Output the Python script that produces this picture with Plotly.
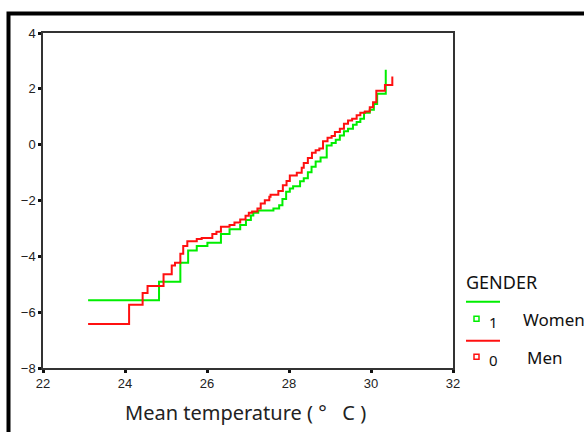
import plotly.graph_objects as go

# Data (step functions)
men_x = [23.10, 24.10, 24.43, 24.55, 24.94, 25.14, 25.22, 25.35, 25.42, 25.52, 25.75, 25.87,
         26.13, 26.23, 26.34, 26.55, 26.67, 26.81, 26.94, 27.02, 27.10, 27.23, 27.31, 27.41,
         27.52, 27.55, 27.74, 27.85, 27.94, 28.02, 28.19, 28.31, 28.36, 28.46, 28.56, 28.65,
         28.74, 28.83, 28.94, 29.04, 29.12, 29.24, 29.34, 29.44, 29.54, 29.65, 29.74, 29.85,
         29.97, 30.05, 30.13, 30.34, 30.52]
men_y = [-6.42, -5.73, -5.31, -5.06, -4.64, -4.33, -4.23, -3.91, -3.63, -3.46, -3.38, -3.34,
         -3.20, -3.12, -2.94, -2.88, -2.79, -2.68, -2.55, -2.44, -2.39, -2.29, -2.11, -1.99,
         -1.87, -1.79, -1.66, -1.45, -1.30, -1.10, -1.01, -0.83, -0.66, -0.48, -0.29, -0.20,
         -0.14, 0.12, 0.25, 0.31, 0.45, 0.57, 0.75, 0.87, 0.93, 1.05, 1.14, 1.19,
         1.34, 1.52, 1.93, 2.14, 2.44]

women_x = [23.10, 24.83, 25.35, 25.54, 25.75, 26.01, 26.34, 26.55, 26.81, 26.95, 27.07, 27.13,
           27.25, 27.62, 27.76, 27.84, 27.93, 28.02, 28.10, 28.27, 28.36, 28.46, 28.55, 28.65,
           28.77, 28.92, 29.04, 29.14, 29.24, 29.34, 29.44, 29.56, 29.65, 29.74, 29.83, 29.97,
           30.07, 30.15, 30.36]
women_y = [-5.57, -4.91, -4.23, -3.79, -3.63, -3.51, -3.20, -3.03, -2.88, -2.70, -2.54, -2.44,
           -2.36, -2.29, -2.17, -1.95, -1.69, -1.57, -1.49, -1.31, -1.20, -0.99, -0.79, -0.60,
           -0.46, -0.03, 0.06, 0.18, 0.33, 0.48, 0.57, 0.71, 0.81, 0.93, 1.14, 1.25,
           1.46, 1.82, 2.68]

x_ticks = [22, 24, 26, 28, 30, 32]
y_ticks = [-8, -6, -4, -2, 0, 2, 4]
legend_title = "GENDER"
legend_codes = ["1", "0"]
legend_names = ["Women", "Men"]
x_title = "Mean temperature ( °   C )"

GREEN = "#00ee00"
RED = "#ff1010"

fig = go.Figure()
fig.add_trace(go.Scatter(x=women_x, y=women_y, mode="lines", line=dict(color=GREEN, width=2, shape="hv"),
                         name="Women", showlegend=False))
fig.add_trace(go.Scatter(x=men_x, y=men_y, mode="lines", line=dict(color=RED, width=2, shape="hv"),
                         name="Men", showlegend=False))

# page body margin is removed by the post script, so page pixels == figure pixels
W, H = 584, 432
PL, PR, PT, PB = 43, 453, 32.5, 368.3  # plot area in page pixels
L, R, T, B = PL, W - PR, PT, H - PB
pw, ph = PR - PL, PB - PT


def px(x):
    return (x - PL) / pw


def py(y):
    return (PB - y) / ph


shapes = [
    # thick black frame at top and left
    dict(type="path", xref="paper", yref="paper",
         path=f"M {px(8.5)},{py(440)} L {px(8.5)},{py(13)} L {px(600)},{py(13)}",
         line=dict(color="black", width=4)),
]
annotations = [
    dict(text=x_title, xref="paper", yref="paper", x=px(245), y=py(413), xanchor="center", yanchor="middle",
         showarrow=False, font=dict(family="Noto Sans", size=20, color="#222")),
    dict(text=legend_title, xref="paper", yref="paper", x=px(464), y=py(282), xanchor="left", yanchor="middle",
         showarrow=False, font=dict(family="Noto Sans", size=18, color="#111")),
]
colors = [GREEN, RED]
line_y = [302, 341]
sq_y = [319, 357]
for i in range(2):
    shapes.append(dict(type="line", xref="paper", yref="paper", x0=px(466), x1=px(500),
                       y0=py(line_y[i]), y1=py(line_y[i]), line=dict(color=colors[i], width=2)))
    shapes.append(dict(type="rect", xref="paper", yref="paper", x0=px(474), x1=px(479),
                       y0=py(sq_y[i] - 2.5), y1=py(sq_y[i] + 2.5), line=dict(color=colors[i], width=1.5)))
    annotations.append(dict(text=legend_codes[i], xref="paper", yref="paper", x=px(493), y=py(sq_y[i] + 3),
                            xanchor="center", yanchor="middle", showarrow=False,
                            font=dict(family="Noto Sans", size=15, color="#111")))
    annotations.append(dict(text=legend_names[i], xref="paper", yref="paper", x=px(521 + 4 * i), y=py(sq_y[i] + 1),
                            xanchor="left", yanchor="middle", showarrow=False,
                            font=dict(family="Noto Sans", size=17, color="#111")))

axis_common = dict(showline=True, linecolor="#333", linewidth=1.5, mirror=True, showgrid=False, zeroline=False,
                   ticks="outside", ticklen=3, tickwidth=3, tickcolor="#111",
                   tickfont=dict(family="Liberation Sans, Arial", size=13, color="#222"))
fig.update_layout(
    width=W, height=H,
    margin=dict(l=L, r=R, t=T, b=B),
    paper_bgcolor="white", plot_bgcolor="white",
    xaxis=dict(range=[22, 32], tickvals=x_ticks, **axis_common),
    yaxis=dict(range=[-8, 4], tickvals=y_ticks, **axis_common),
    shapes=shapes, annotations=annotations, showlegend=False,
)
fig.write_html("out.html", config={"displayModeBar": False},
               post_script="document.body.style.margin='0';document.body.style.overflow='hidden';")
